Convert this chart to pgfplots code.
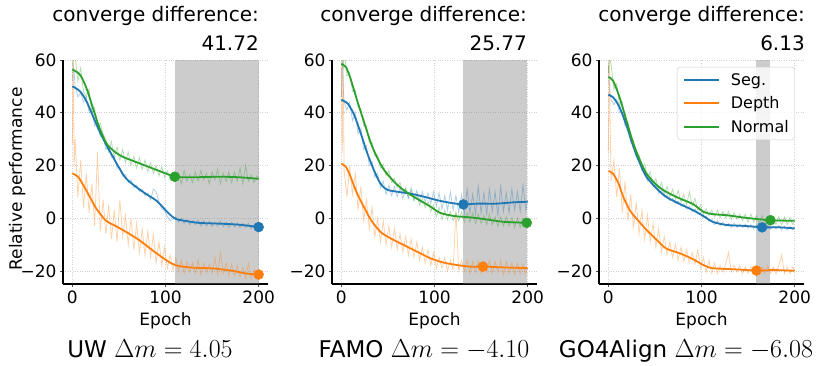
\documentclass[border=0pt]{standalone}
\usepackage{fix-cm}
\usepackage{fontspec}
\setmainfont{DejaVu Sans}
\usepackage{pgfplots}
\usepackage{pgfplotstable}
\pgfplotsset{compat=1.18}

\definecolor{tabblue}{HTML}{1F77B4}
\definecolor{taborange}{HTML}{FF7F0E}
\definecolor{tabgreen}{HTML}{2CA02C}

% raw (noisy) curves: epoch, seg, depth, normal
\pgfplotstableread{
x b d n
0 52 28 58
1 58 65 60
2 55 20 65
3 50 30 62
6 46 8 52
9 47.5 22 57
12 44 4 48
15 46 17 46
18 40 2 49
21 41 13 40
24 35 -3 42
27 36 25 34
30 31 -5 36
33 31.5 7 32
36 26 -6 30
39 27.5 5 25
42 23 -8 29
45 23.5 3 23
48 19 -9 27
51 19.5 7 22
54 16 -7 26
57 16.5 1 21
60 13.5 -10 25
63 14.5 0 20
66 11.5 -12 23.5
69 12.5 -2 19
72 10 -13 23
75 11 -4 18.5
78 8.5 -14 22
81 9.5 -5 17.5
84 7 -15 21
87 11 -6 17
90 10 -17 20
93 6 -9 16
96 3.5 -18 19.5
99 3 -11 15.5
102 0.5 -19 18
105 -1 -14 14.5
108 -0.5 -20 17.5
111 0.5 -15 14
114 -1.5 -20 17
117 0 -16 13
120 -2 -21 18
123 -0.5 -16.5 14
126 -2.5 -20.5 16.5
129 -1 -17 13.5
132 -2.5 -21 17.5
135 -0.8 -16 14
138 -3 -21.5 18
141 -1 -17 14.5
144 -3 -20.5 17
147 -1.2 -17.5 13
150 -3.2 -21 17.5
153 -1.5 -15 14.5
156 -3 -21.5 18.5
159 -1.2 -13 13
162 -3.2 -21 17
165 -1.5 -17 14
168 -3.5 -22 17.5
171 -1.6 -17.5 13.5
174 -3.4 -22 17.5
177 -1.8 -18 14
180 -3.5 -22.5 19
183 -2 -18.5 13
186 -3.6 -23 20
189 -2 -17 14
192 -4 -23 16.5
195 -2.5 -19.5 13.5
198 -4 -23 16
200 -3.2 -20 15
}\rawA

\pgfplotstableread{
x b d n
0 46 58 60
1 60 25 58
2 50 62 57
3 44 18 65
6 41 8 54
9 44 20 55
12 37 9 48
15 40 17 48.5
18 32 3 42
21 34 12 41.5
24 26 -1 35
27 27.5 7 35
30 20 -4 28.5
33 21.5 4 29
36 15.5 -7 23.5
39 17 0 24
42 11.5 -9 19
45 14 -1 20.5
48 9 -10 16
51 12.5 -3 18
54 8.5 -11 13.5
57 12 -4 15
60 8 -12 11.5
63 11.5 -6 13.5
66 7.5 -13 9.5
69 11 -7 11.5
72 7.5 -14 8
75 11.5 -8 10.5
78 7 -15 6.5
81 10.5 -9 9
84 6.5 -16 5
87 10 -11 7.5
90 6 -17 4
93 9.5 -12 6.5
96 5.5 -18 2.5
99 10 -13 5
102 4.5 -19 0.5
105 9.5 -15 4
108 3.5 -19 -0.5
111 8.5 -15 3
114 3 -20 -0.5
117 10 -16 2.5
120 3 -19.5 -1
123 8.5 3 2
126 2 -20 -1
129 9 -16 2.5
132 1.5 -20 -1.5
135 11 -16 2
138 2 -21 -1.5
141 9 -16.5 2
144 1.5 -20.5 -2
147 12 -16 1.5
150 2 -21 -2
153 9.5 -16.5 1
156 1.5 -20.5 -2.5
159 11 -16 1.5
162 2.5 -21 -2.5
165 10 -16.5 0.5
168 1 -20.5 -3
171 12 -16 0.5
174 2.5 -21.5 -3
177 9.5 -16.5 0.5
180 2 -21 -3
183 11 -17 0
186 3 -21.5 -3.5
189 10 -17 0
192 2.5 -21 -3.5
195 12.5 -17.5 0
198 3 -21 -3
200 7 -19 -2
}\rawB

\pgfplotstableread{
x b d n
0 58 25 55
1 50 62 62
2 47 35 60
3 45 14 58
6 43 22 49
9 45 8 51
12 40 19 43
15 40.5 2 44
18 35 14 37
21 34.5 -1 36.5
24 29 9 30
27 28 -4 29.5
30 23 6 24
33 22.5 -6 24
36 18 3 19
39 18 -8 20.5
42 14 1 15
45 15 -9 17.5
48 12 -2 12.5
51 12.5 -11 15
54 9.5 -4 10.5
57 10.5 -13 13.5
60 8 -7 9
63 8.8 -14 12
66 6.5 -9 8
69 7.5 -15 11
72 5.5 -10 7
75 6.5 -16 10.5
78 4.5 -11 6
81 5.5 -16.5 9
84 3.5 -12 5
87 4.5 -17 10
90 2.5 -13 4.5
93 3.5 -17.5 7.5
96 1.5 -12 3
99 2 -19 5
102 0 -15 1.5
105 0.8 -20.5 3.5
108 -1.2 -16 1
111 -0.5 -21 3
114 -2.5 -17 0.5
117 -1 -21 3
120 -2.8 -18 0.2
123 -1.5 -20.5 2.5
126 -3.2 -17.5 0
129 -2 -13 2.5
132 -3.5 -20.5 -0.5
135 -2 -18 2
138 -3.5 -20.5 -0.5
141 -2.2 -18 1.5
144 -3.5 -21 -1
147 -2.3 -18.5 1.5
150 -3.8 -21 -1.5
153 -2.5 -18.5 1.5
156 -4 -21 -1.5
159 -2.6 -18.5 1
162 -4 -21 -2
165 -2.8 -18.5 1
168 -4.2 -21 -2
171 -2.8 -18 0.5
174 -4.2 -21 -2.5
177 -3 -18.5 0.5
180 -4.2 -21 -2.5
183 -2.8 -18 0.5
186 -4.5 -14 -2.5
189 -3 -21 0.5
192 -4.5 -18.5 -2.5
195 -3.2 -21 0
198 -4.5 -18.5 -2.5
200 -3.8 -20 -1
}\rawC

\newcommand{\lblfont}{\fontsize{17}{17}\selectfont}

\pgfplotsset{
  panel/.style={
    scale only axis, width=205pt, height=224pt,
    xmin=-10, xmax=210, ymin=-25, ymax=60,
    axis x line*=bottom, axis y line*=left,
    axis line style={line width=1.1pt, -},
    xtick={0,100,200}, xticklabels={0,100,200},
    ytick={-20,0,20,40,60}, yticklabels={−20,0,20,40,60},
    tick align=outside, major tick length=3pt,
    tick style={black!70, line width=0.6pt},
    grid=major, grid style={dotted, black!18, line width=0.6pt},
    tick label style={font=\lblfont},
    xlabel={Epoch},
    every axis x label/.style={at={(axis description cs:0.5,0)}, anchor=north, yshift=-28pt, inner sep=0pt, font=\lblfont},
  },
  raw/.style={line width=0.8pt, opacity=0.35, forget plot},
  sm/.style={line width=1.8pt, smooth},
  dot/.style={only marks, mark=*, mark size=5pt, forget plot},
  span/.style={fill=gray, fill opacity=0.4, draw=none, forget plot},
}

\begin{document}
\begin{tikzpicture}[x=1pt, y=1pt]
\path[use as bounding box] (0,0) rectangle (830,366);

% ---- UW ----
\begin{axis}[panel, at={(63pt,82pt)}, anchor=south west,
  ylabel={Relative performance},
  every axis y label/.style={at={(axis description cs:-0.224,0.469)}, rotate=90, anchor=center, inner sep=0pt, font=\lblfont}]
\addplot[span] coordinates {(110,-25) (110,60) (200,60) (200,-25)} -- cycle;
\addplot[raw, tabblue] table[x=x, y=b] {\rawA};
\addplot[raw, taborange] table[x=x, y=d] {\rawA};
\addplot[raw, tabgreen] table[x=x, y=n] {\rawA};
\addplot[sm, tabblue] coordinates {(0,50) (8,48.2) (15,44.5) (22,38.8) (29,33.1) (36,28.1) (44,23) (51,18.6) (58,14.9) (69,11.7) (79,9.2) (90,6.7) (97,4.2) (104,1.6) (111,-0.3) (122,-1.1) (136,-1.8) (158,-2.1) (179,-2.5) (200,-3.4)};
\addplot[sm, taborange] coordinates {(0,17) (6,15.7) (11,13) (19,7.9) (26,3.5) (36,-0.9) (47,-3.1) (58,-5.3) (72,-8.4) (86,-12.2) (101,-16) (111,-17.9) (129,-18.8) (151,-19.1) (172,-20) (186,-21) (200,-21.4)};
\addplot[sm, tabgreen] coordinates {(0,56.4) (8,54.5) (15,49.5) (22,41.9) (29,34.4) (36,28.7) (44,25.6) (54,23.3) (69,21.2) (83,19.3) (97,17.4) (111,15.7) (129,15.5) (158,15.7) (179,15.5) (200,14.9)};
\addplot[dot, tabgreen] coordinates {(110,15.7)};
\addplot[dot, tabblue] coordinates {(200,-3.4)};
\addplot[dot, taborange] coordinates {(200,-21.4)};
\end{axis}

% ---- FAMO ----
\begin{axis}[panel, at={(332pt,82pt)}, anchor=south west]
\addplot[span] coordinates {(131,-25) (131,60) (199,60) (199,-25)} -- cycle;
\addplot[raw, tabblue] table[x=x, y=b] {\rawB};
\addplot[raw, taborange] table[x=x, y=d] {\rawB};
\addplot[raw, tabgreen] table[x=x, y=n] {\rawB};
\addplot[sm, tabblue] coordinates {(0,44.9) (7,43.4) (14,39) (21,32) (28,24.5) (35,18.2) (42,13.1) (49,10.8) (60,10) (74,9.3) (89,8.1) (103,6.8) (117,5.8) (131,5.2) (146,5.5) (167,5.5) (185,6) (200,6.2)};
\addplot[sm, taborange] coordinates {(0,20.7) (5,19.4) (10,15.6) (17,9.3) (25,3.7) (32,-0.8) (42,-5.2) (53,-7.7) (67,-10.2) (81,-12.7) (96,-15.3) (110,-16.9) (124,-17.8) (138,-18.4) (153,-18.4) (174,-18.7) (200,-19)};
\addplot[sm, tabgreen] coordinates {(0,58.5) (5,57.3) (10,52.8) (17,44.6) (25,35.8) (32,28.2) (39,22.6) (46,18.2) (57,13.7) (67,10.6) (81,7.4) (96,4.3) (106,2) (121,0.8) (138,0.3) (156,-0.5) (174,-1.4) (200,-1.8)};
\addplot[dot, tabblue] coordinates {(131,5.2)};
\addplot[dot, taborange] coordinates {(152,-18.4)};
\addplot[dot, tabgreen] coordinates {(199,-1.8)};
\end{axis}

% ---- GO4Align ----
\begin{axis}[panel, at={(599pt,82pt)}, anchor=south west,
  legend cell align=left,
  legend image code/.code={\path (-2pt,0pt) (44pt,0pt); \draw[#1, line width=1.8pt] (0pt,0pt) -- (35pt,0pt);},
  legend style={at={(0.956,0.969)}, anchor=north east, draw=black!20, rounded corners=3pt,
    fill=white, fill opacity=0.8, text opacity=1, font=\fontsize{16}{18}\selectfont,
    inner xsep=4pt, inner ysep=4pt, row sep=6pt}]
\addplot[span] coordinates {(159,-25) (159,60) (174,60) (174,-25)} -- cycle;
\addplot[raw, tabblue] table[x=x, y=b] {\rawC};
\addplot[raw, taborange] table[x=x, y=d] {\rawC};
\addplot[raw, tabgreen] table[x=x, y=n] {\rawC};
\addplot[sm, tabblue] coordinates {(0,46.8) (5,45.9) (12,42.1) (20,34.6) (27,27) (34,20.7) (41,15.6) (52,11.2) (62,8.1) (77,5.3) (91,3) (102,0.8) (112,-1.4) (127,-2.6) (148,-3) (166,-3.5) (184,-3.5) (200,-3.9)};
\addlegendentry{Seg.}
\addplot[sm, taborange] coordinates {(0,17.9) (5,16.9) (11,13.1) (16,8.1) (23,3) (30,-0.1) (41,-4.5) (52,-8.3) (62,-11.5) (77,-13.4) (91,-15.6) (102,-17.8) (112,-19) (134,-19.4) (159,-19.9) (177,-19.7) (200,-20)};
\addlegendentry{Depth}
\addplot[sm, tabgreen] coordinates {(0,53.5) (5,52.2) (12,45.9) (20,36.4) (27,28.2) (34,21.9) (41,16.9) (52,12.5) (62,10) (77,7.4) (91,5.3) (102,2.4) (112,1.5) (127,1.1) (148,0.1) (174,-0.8) (200,-1)};
\addlegendentry{Normal}
\addplot[dot, taborange] coordinates {(159,-19.9)};
\addplot[dot, tabblue] coordinates {(165,-3.5)};
\addplot[dot, tabgreen] coordinates {(174,-0.8)};
\end{axis}

% titles
\begin{scope}[every node/.style={inner sep=0pt, font=\fontsize{20}{24}\selectfont}]
\node[anchor=base east] at (259,344) {converge difference:};
\node[anchor=base east] at (259,315) {41.72};
\node[anchor=base east] at (527,344) {converge difference:};
\node[anchor=base east] at (527,315) {25.77};
\node[anchor=base east] at (805,344) {converge difference:};
\node[anchor=base east] at (805,315) {6.13};
\end{scope}

% captions
\begin{scope}[every node/.style={inner sep=0pt, font=\fontsize{23}{27}\selectfont}]
\node[anchor=base] at (150,8) {UW {\fontsize{26}{30}\selectfont$\Delta m = 4.05$}};
\node[anchor=base] at (424,8) {FAMO {\fontsize{26}{30}\selectfont$\Delta m = -4.10$}};
\node[anchor=base] at (686,8) {GO4Align {\fontsize{26}{30}\selectfont$\Delta m = -6.08$}};
\end{scope}
\end{tikzpicture}
\end{document}
